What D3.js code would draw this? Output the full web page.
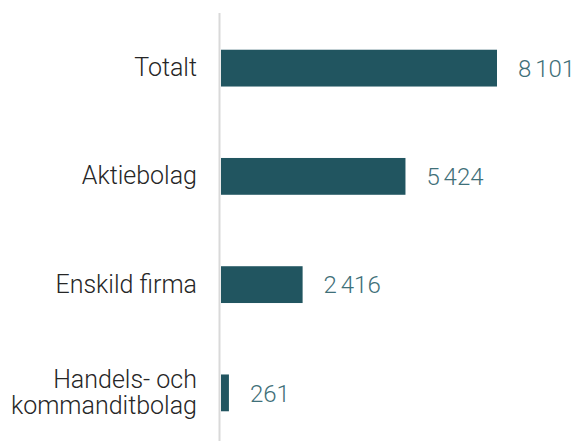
<!DOCTYPE html>
<html><head><meta charset="utf-8">
<script src="https://cdn.jsdelivr.net/npm/d3@7"></script>
<style>body{margin:0;background:#fff}</style>
</head><body>
<svg id="c" width="576" height="441"></svg>
<script>
const categories = ["Totalt", "Aktiebolag", "Enskild firma", "Handels- och\nkommanditbolag"];
const values = [8101, 5424, 2416, 261];
const valueLabels = ["8 101", "5 424", "2 416", "261"];

const svg = d3.select("#c");
const x0 = 220;
const x = d3.scaleLinear().domain([0, 8101]).range([x0, 497]);
const y = d3.scaleBand().domain(categories).range([14, 447]).paddingInner(0.66).paddingOuter(0.33);

svg.append("line").attr("x1", 219.5).attr("x2", 219.5).attr("y1", 13).attr("y2", 441)
  .attr("stroke", "#d9d9d9").attr("stroke-width", 2);

svg.selectAll("rect.bar").data(values).join("rect")
  .attr("x", x0 + 1).attr("y", (d, i) => y(categories[i]))
  .attr("width", d => x(d) - x0 - 1).attr("height", y.bandwidth())
  .attr("fill", "#215560");

const font = "Roboto, sans-serif";
svg.selectAll("text.val").data(values).join("text")
  .attr("x", d => x(d) + 21).attr("y", (d, i) => y(categories[i]) + y.bandwidth() / 2)
  .attr("dy", "0.36em").attr("font-family", font).attr("font-weight", 300).attr("font-size", 24)
  .attr("word-spacing", -2)
  .attr("fill", "#3f7079").text((d, i) => valueLabels[i]);

categories.forEach((c, i) => {
  const lines = c.split("\n");
  const cy = y(c) + y.bandwidth() / 2;
  lines.forEach((l, j) => {
    svg.append("text").attr("x", 197).attr("text-anchor", "end")
      .attr("font-family", font).attr("font-weight", 300).attr("font-size", 25).attr("fill", "#262626")
      .attr("y", cy - 1 + (j - (lines.length - 1) / 2) * 26.5).attr("dy", "0.36em").text(l);
  });
});
</script>
</body></html>
